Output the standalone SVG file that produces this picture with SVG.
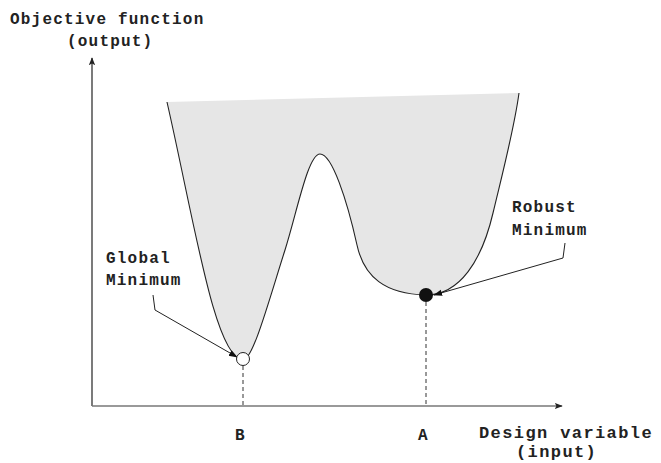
<svg xmlns="http://www.w3.org/2000/svg" width="661" height="463" viewBox="0 0 661 463">
<style>
.t{font-family:"Liberation Mono",monospace;font-weight:bold;font-size:16px;fill:#222;letter-spacing:1.2px}
.tb{font-family:"Liberation Mono",monospace;font-weight:bold;font-size:17px;fill:#222;letter-spacing:1.4px}
.curve{fill:none;stroke:#222;stroke-width:1.1}
.lead{fill:none;stroke:#222;stroke-width:1}
.dash{fill:none;stroke:#333;stroke-width:1;stroke-dasharray:4 3}
</style>
<defs>
<marker id="ah" viewBox="0 0 10 10" refX="9" refY="5" markerWidth="9" markerHeight="9" markerUnits="userSpaceOnUse" orient="auto">
<path d="M0,1.5 L10,5 L0,8.5 Z" fill="#111"/>
</marker>
<marker id="ax" viewBox="0 0 10 10" refX="9" refY="5" markerWidth="8" markerHeight="8" markerUnits="userSpaceOnUse" orient="auto">
<path d="M0,1 L10,5 L0,9 L2,5 Z" fill="#222"/>
</marker>
</defs>
<g id="landscape">
<path d="M167,102 C195,225 215,358 243,360 C253,360 269,300 285,250 C297,212 308,154 320,154 C332,154 347,200 357,245 C364,277 385,294 426,295 C460,295 482,260 493,213 C502,175 514,130 519,93 Z" fill="#e6e6e6" stroke="none"/>
<path class="curve" d="M167,102 C195,225 215,358 243,360 C253,360 269,300 285,250 C297,212 308,154 320,154 C332,154 347,200 357,245 C364,277 385,294 426,295 C460,295 482,260 493,213 C502,175 514,130 519,93"/>
</g>
<g id="axes">
<line x1="92" y1="406" x2="92" y2="58" stroke="#222" stroke-width="1.2" marker-end="url(#ax)"/>
<line x1="92" y1="406" x2="562" y2="406" stroke="#777" stroke-width="1.6" marker-end="url(#ax)"/>
</g>
<g id="connectors">
<line class="dash" x1="243" y1="366" x2="243" y2="405"/>
<line class="dash" x1="426" y1="302" x2="426" y2="405"/>
<polyline class="lead" points="153,295 155,310 237,357" marker-end="url(#ah)"/>
<polyline class="lead" points="565,243 563,258 434,295" marker-end="url(#ah)"/>
</g>
<g id="global-min">
<circle cx="243" cy="359" r="6.5" fill="#fff" stroke="#222" stroke-width="1"/>
</g>
<g id="robust-min">
<circle cx="426" cy="295" r="7" fill="#111"/>
</g>
<g id="labels">
<text class="t" x="10" y="24">Objective function</text>
<text class="t" x="67" y="46">(output)</text>
<text class="t" x="106" y="263">Global</text>
<text class="t" x="106" y="285">Minimum</text>
<text class="t" x="512" y="212">Robust</text>
<text class="t" x="512" y="235">Minimum</text>
<text class="t" x="235" y="440">B</text>
<text class="t" x="418" y="440">A</text>
<text class="tb" x="479" y="438">Design variable</text>
<text class="tb" x="516" y="457">(input)</text>
</g>
</svg>
